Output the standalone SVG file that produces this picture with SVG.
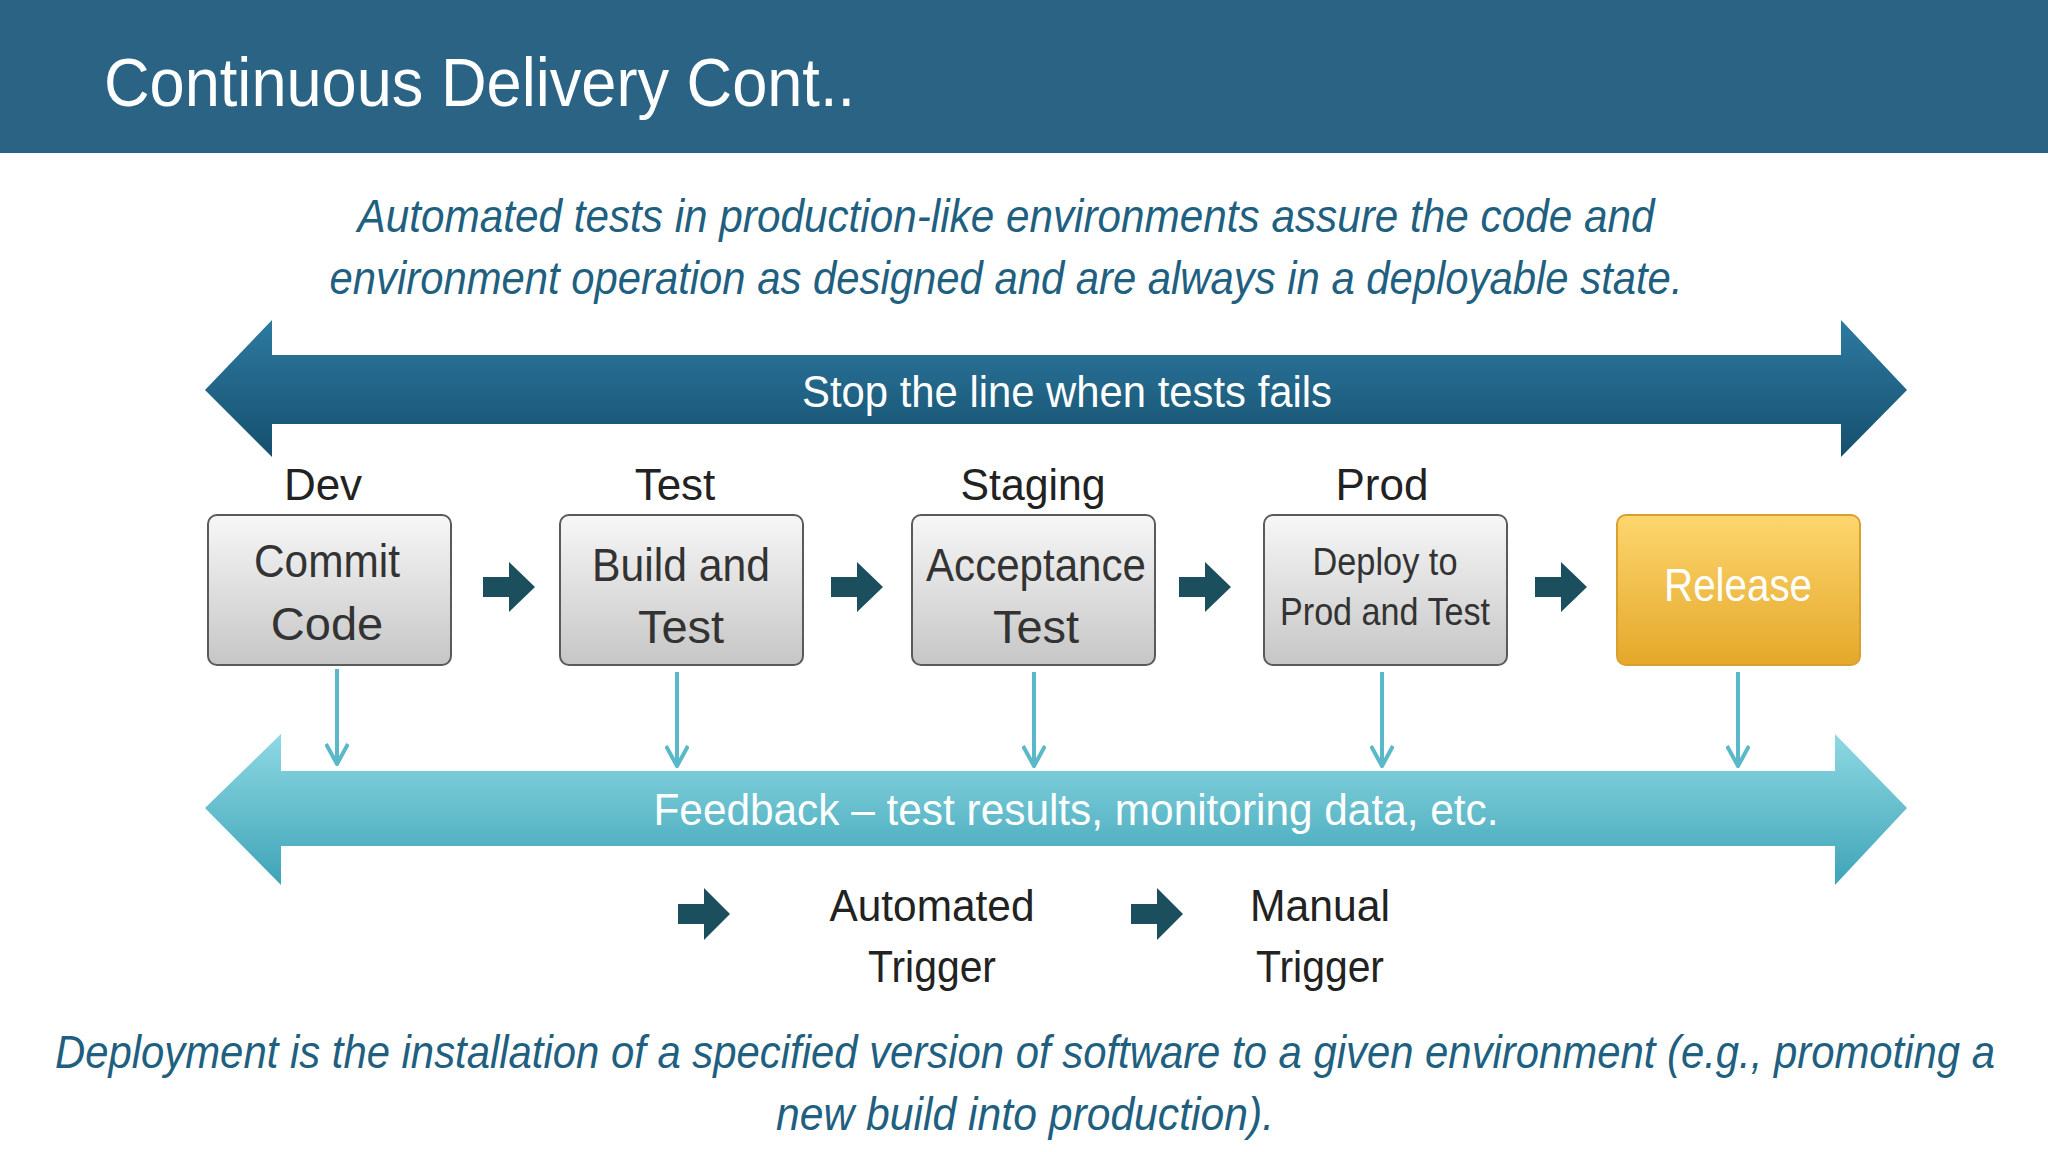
<svg xmlns="http://www.w3.org/2000/svg" width="2048" height="1152" viewBox="0 0 2048 1152">
<defs>
<linearGradient id="gBox" x1="0" y1="0" x2="0" y2="1"><stop offset="0" stop-color="#f7f7f7"/><stop offset="1" stop-color="#c6c6c6"/></linearGradient>
<linearGradient id="gRel" x1="0" y1="0" x2="0" y2="1"><stop offset="0" stop-color="#fdd66e"/><stop offset="1" stop-color="#e4a82a"/></linearGradient>
<linearGradient id="gTop" x1="0" y1="0" x2="0" y2="1"><stop offset="0" stop-color="#2d7aa0"/><stop offset="1" stop-color="#164f6e"/></linearGradient>
<linearGradient id="gFb" x1="0" y1="0" x2="0" y2="1"><stop offset="0" stop-color="#8ed8e3"/><stop offset="1" stop-color="#3ea4b7"/></linearGradient>
<marker id="v" viewBox="0 0 24 24" refX="22" refY="12" markerWidth="24" markerHeight="24" markerUnits="userSpaceOnUse" orient="auto"><path d="M2,1 L22,12 L2,23" fill="none" stroke="#5ab8c8" stroke-width="4"/></marker>
</defs>
<style>
text{font-family:"Liberation Sans",Arial,sans-serif}
.box{fill:url(#gBox);stroke:#5a5a5a;stroke-width:2}
.bt{font-size:47px;fill:#333;text-anchor:middle}
.lab{font-size:44px;fill:#222;text-anchor:middle}
.it{font-style:italic;font-size:46px;fill:#1f5f80;text-anchor:middle}
.blk{fill:#1c4f5e}
.dn{stroke:#5ab8c8;stroke-width:4;fill:none}
</style>
<rect x="0" y="0" width="2048" height="153" fill="#2a6383"/>
<text x="104" y="106" font-size="68" fill="#fff" textLength="751" lengthAdjust="spacingAndGlyphs">Continuous Delivery  Cont..</text>
<text class="it" x="1006" y="232" textLength="1297" lengthAdjust="spacingAndGlyphs">Automated tests in production-like environments assure the code and</text>
<text class="it" x="1006" y="294" textLength="1353" lengthAdjust="spacingAndGlyphs">environment operation as designed and are always in a deployable state.</text>
<g id="stopline">
<path d="M205,390 L272,320 L272,355 L1841,355 L1841,320 L1907,390 L1841,457 L1841,424 L272,424 L272,457 Z" fill="url(#gTop)"/>
<text x="1067" y="407" font-size="44" fill="#fff" text-anchor="middle" textLength="530" lengthAdjust="spacingAndGlyphs">Stop the line when tests fails</text>
</g>
<g id="labels">
<text class="lab" x="323" y="500">Dev</text>
<text class="lab" x="675" y="500">Test</text>
<text class="lab" x="1033" y="500" textLength="145" lengthAdjust="spacingAndGlyphs">Staging</text>
<text class="lab" x="1382" y="500">Prod</text>
</g>
<g id="commit"><rect class="box" x="208" y="515" width="243" height="150" rx="9"/><text class="bt" x="327" y="577" textLength="146" lengthAdjust="spacingAndGlyphs">Commit</text><text class="bt" x="327" y="640">Code</text></g>
<g id="build"><rect class="box" x="560" y="515" width="243" height="150" rx="9"/><text class="bt" x="681" y="581" textLength="178" lengthAdjust="spacingAndGlyphs">Build and</text><text class="bt" x="681" y="643">Test</text></g>
<g id="accept"><rect class="box" x="912" y="515" width="243" height="150" rx="9"/><text class="bt" x="1036" y="581" textLength="220" lengthAdjust="spacingAndGlyphs">Acceptance</text><text class="bt" x="1036" y="643">Test</text></g>
<g id="deploy"><rect class="box" x="1264" y="515" width="243" height="150" rx="9"/><text class="bt" x="1385" y="575" style="font-size:39px" textLength="145" lengthAdjust="spacingAndGlyphs">Deploy to</text><text class="bt" x="1385" y="625" style="font-size:39px" textLength="210" lengthAdjust="spacingAndGlyphs">Prod and Test</text></g>
<g id="release"><rect x="1617" y="515" width="243" height="150" rx="9" fill="url(#gRel)" stroke="#d9a030" stroke-width="2"/><text class="bt" x="1738" y="601" style="fill:#fff" textLength="148" lengthAdjust="spacingAndGlyphs">Release</text></g>
<g id="connectors">
<path class="blk" d="M483,577 h26 v-15 l26,25 l-26,25 v-15 h-26 z"/>
<path class="blk" d="M831,577 h26 v-15 l26,25 l-26,25 v-15 h-26 z"/>
<path class="blk" d="M1179,577 h26 v-15 l26,25 l-26,25 v-15 h-26 z"/>
<path class="blk" d="M1535,577 h26 v-15 l26,25 l-26,25 v-15 h-26 z"/>
<line class="dn" x1="337" y1="669" x2="337" y2="764" marker-end="url(#v)"/>
<line class="dn" x1="677" y1="672" x2="677" y2="766" marker-end="url(#v)"/>
<line class="dn" x1="1034" y1="672" x2="1034" y2="766" marker-end="url(#v)"/>
<line class="dn" x1="1382" y1="672" x2="1382" y2="766" marker-end="url(#v)"/>
<line class="dn" x1="1738" y1="672" x2="1738" y2="766" marker-end="url(#v)"/>
</g>
<g id="feedback">
<path d="M205,808 L281,734 L281,771 L1835,771 L1835,734 L1907,808 L1835,885 L1835,846 L281,846 L281,885 Z" fill="url(#gFb)"/>
<text x="1076" y="825" font-size="44" fill="#fff" text-anchor="middle" textLength="845" lengthAdjust="spacingAndGlyphs">Feedback – test results, monitoring data, etc.</text>
</g>
<g id="legend">
<path class="blk" d="M678,904 h26 v-16 l26,26 l-26,26 v-16 h-26 z"/>
<text class="lab" x="932" y="921" textLength="205" lengthAdjust="spacingAndGlyphs">Automated</text>
<text class="lab" x="932" y="982" textLength="128" lengthAdjust="spacingAndGlyphs">Trigger</text>
<path class="blk" d="M1131,904 h26 v-16 l26,26 l-26,26 v-16 h-26 z"/>
<text class="lab" x="1320" y="921" textLength="140" lengthAdjust="spacingAndGlyphs">Manual</text>
<text class="lab" x="1320" y="982" textLength="128" lengthAdjust="spacingAndGlyphs">Trigger</text>
</g>
<text class="it" x="1025" y="1068" textLength="1940" lengthAdjust="spacingAndGlyphs">Deployment is the installation of a specified version of software to a given environment (e.g., promoting a</text>
<text class="it" x="1025" y="1130" textLength="498" lengthAdjust="spacingAndGlyphs">new build into production).</text>
</svg>
